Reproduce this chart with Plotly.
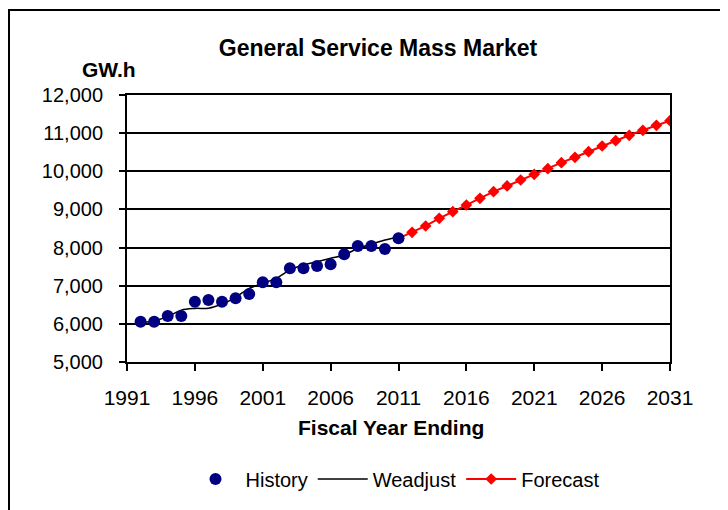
import plotly.graph_objects as go

# History (actual) sales, GW.h
hist_years = list(range(1992, 2012))
hist_vals = [6057, 6057, 6206, 6206, 6581, 6626, 6581, 6670, 6783, 7090,
             7090, 7457, 7457, 7517, 7561, 7823, 8041, 8041, 7963, 8243]

# Weather-adjusted history
wadj_years = list(range(1992, 2012))
wadj_vals = [6030, 6080, 6190, 6360, 6405, 6410, 6520, 6696, 6932, 7063,
             7194, 7412, 7543, 7630, 7718, 7805, 7980, 8093, 8198, 8285]

# Forecast
fc_years = list(range(2011, 2032))
fc_vals = [8243, 8400, 8566, 8768, 8941, 9116, 9292, 9465, 9615, 9772, 9921,
           10068, 10226, 10367, 10514, 10663, 10802, 10944, 11075, 11206, 11327]

x_ticks = list(range(1991, 2032, 5))

FONT = "Arial, Liberation Sans, sans-serif"

# plot area in figure pixels (page has an 8px body margin)
L, T, W, H = 119, 87, 543, 267


def px(x):
    return (x - L) / W


def py(y):
    return (T + H - y) / H


fig = go.Figure()

# forecast drawn first so the 2011 history dot sits on top; legend order kept by rank
fig.add_trace(go.Scatter(
    x=fc_years, y=fc_vals, mode="lines+markers", name="Forecast", legendrank=3,
    line=dict(color="#ff0000", width=2),
    marker=dict(symbol="diamond", color="#ff0000", size=9),
))
fig.add_trace(go.Scatter(
    x=wadj_years, y=wadj_vals, mode="lines", name="Weadjust", legendrank=2,
    line=dict(color="black", width=1.5, shape="spline"),
))
fig.add_trace(go.Scatter(
    x=hist_years, y=hist_vals, mode="markers", name="History", legendrank=1,
    marker=dict(color="#000080", size=12),
))

fig.update_layout(
    width=728, height=510,
    margin=dict(l=L, r=728 - L - W, t=T, b=510 - T - H),
    paper_bgcolor="white", plot_bgcolor="white",
    font=dict(family=FONT, size=20, color="black"),
    title=dict(text="<b>General Service Mass Market</b>", x=370 / 728, xref="container",
               xanchor="center", y=1 - 40 / 510, yanchor="middle",
               font=dict(size=23, family=FONT)),
    legend=dict(orientation="h", x=px(387), xanchor="center", y=py(471), yanchor="middle",
                font=dict(size=20), bgcolor="rgba(0,0,0,0)", itemwidth=50,
                traceorder="normal"),
    showlegend=True,
)

fig.update_xaxes(
    range=[1991, 2031], tickvals=x_ticks, showgrid=False,
    showline=True, linecolor="black", linewidth=2, mirror=True,
    ticks="outside", ticklen=7, tickwidth=2, tickcolor="black",
    ticklabelstandoff=9, tickfont=dict(size=21), zeroline=False,
)
fig.update_yaxes(
    range=[5000, 12000], dtick=1000, tickformat=",",
    showgrid=True, gridcolor="black", gridwidth=2,
    showline=True, linecolor="black", linewidth=2, mirror=True,
    ticks="outside", ticklen=6, tickwidth=2, tickcolor="black",
    ticklabelstandoff=12, tickfont=dict(size=20), zeroline=False,
)

# outer chart frame
fig.add_shape(type="rect", xref="paper", yref="paper",
              x0=px(1), x1=1.3, y0=-0.7, y1=py(2),
              line=dict(color="black", width=2), layer="below")

fig.add_annotation(text="<b>GW.h</b>", xref="paper", yref="paper",
                   x=px(71.5), y=py(48), showarrow=False,
                   font=dict(size=21, family=FONT))
fig.add_annotation(text="<b>Fiscal Year Ending</b>", xref="paper", yref="paper",
                   x=px(383), y=py(433), showarrow=False,
                   font=dict(size=21, family=FONT))

fig.write_html("out.html")
